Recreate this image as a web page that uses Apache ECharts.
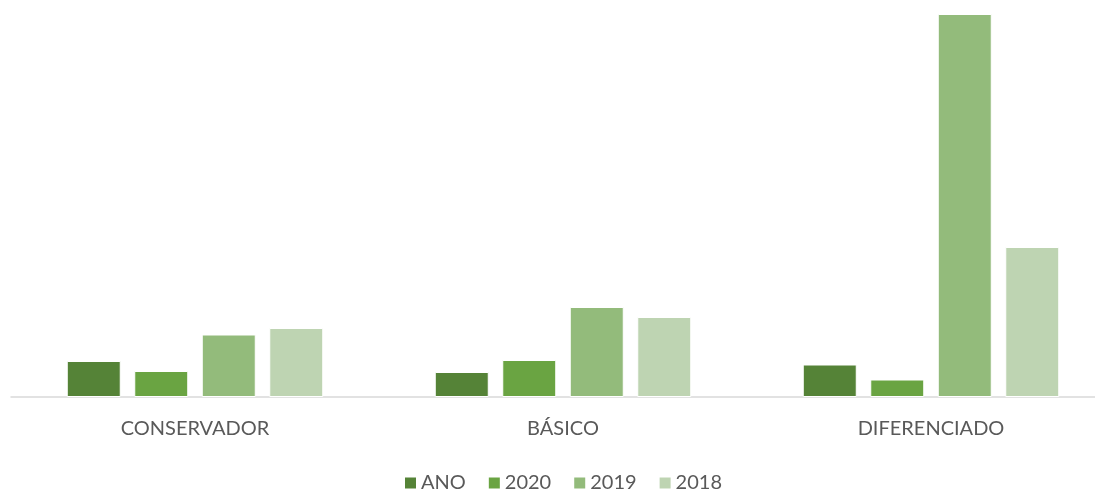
<!DOCTYPE html>
<html>
<head>
<meta charset="utf-8">
<script src="https://cdn.jsdelivr.net/npm/echarts@6/dist/echarts.min.js"></script>
<style>html,body{margin:0;padding:0;background:#fff;overflow:hidden}#c{width:1125px;height:492px}</style>
</head>
<body>
<div id="c"></div>
<script>
const categories = ['CONSERVADOR', 'BÁSICO', 'DIFERENCIADO'];
const seriesNames = ['ANO', '2020', '2019', '2018'];
const anoValues = [36, 25, 32.5];
const v2020 = [26, 37, 17.5];
const v2019 = [62.5, 90, 383];
const v2018 = [69, 80, 150];
const colors = ['#558337', '#6aa442', '#93bb7b', '#bed4b2'];

const chart = echarts.init(document.getElementById('c'));
const all = [anoValues, v2020, v2019, v2018];
const font = 'Lato, Open Sans, sans-serif';
chart.setOption({
  animation: false,
  color: colors,
  legend: {
    data: seriesNames,
    top: 468,
    left: 398,
    itemWidth: 13,
    itemHeight: 13,
    itemGap: 21,
    icon: 'rect',
    textStyle: { fontFamily: font, fontSize: 20, color: '#595959', padding: [0, 0, 0, -1] }
  },
  grid: { left: 11, width: 1104, top: 0, bottom: 95, containLabel: false },
  xAxis: {
    type: 'category',
    data: categories,
    axisLine: { lineStyle: { color: '#d9d9d9', width: 1.5 } },
    axisTick: { show: false },
    axisLabel: { fontFamily: font, fontSize: 20, color: '#595959', margin: 22 }
  },
  yAxis: { type: 'value', min: 0, max: 397, show: false, splitLine: { show: false } },
  series: all.map((d, i) => ({
    name: seriesNames[i],
    type: 'bar',
    data: d,
    barWidth: 54,
    barGap: '25%',
    itemStyle: { borderColor: '#ffffff', borderWidth: 1 }
  }))
});
</script>
</body>
</html>
